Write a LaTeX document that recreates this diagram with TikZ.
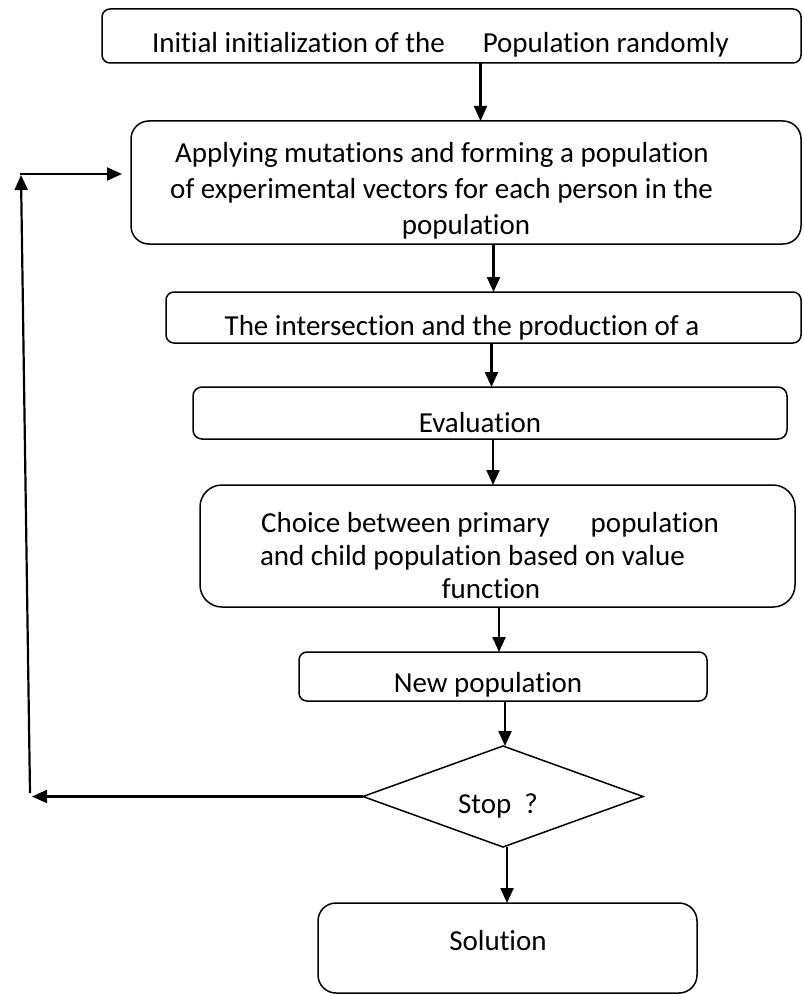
\documentclass[tikz,border=0pt]{standalone}
\usepackage{fontspec}
\setmainfont{Carlito}[Ligatures={NoCommon,NoContextual}]
\usetikzlibrary{arrows.meta,shapes.geometric,fit}
\begin{document}
\begin{tikzpicture}[x=1pt,y=-1pt,
  box/.style={draw, line width=1.5pt, inner sep=0pt, outer sep=0pt},
  arr/.style={line width=2.2pt, -{Triangle[length=15pt,width=13pt]}},
  lbl/.style={anchor=base, inner sep=0pt, font=\fontsize{29}{34}\selectfont}]
\useasboundingbox (0,0) rectangle (803,995);
% boxes
\node[box, rounded corners=8pt,  fit={(102,9)(801,63)}]   (b1) {};
\node[box, rounded corners=18pt, fit={(131,121)(801,244)}] (b2) {};
\node[box, rounded corners=8pt,  fit={(166,292)(801,343)}] (b3) {};
\node[box, rounded corners=9pt,  fit={(193,387)(787,439)}] (b4) {};
\node[box, rounded corners=22pt, fit={(200,485)(795,607)}] (b5) {};
\node[box, rounded corners=8pt,  fit={(299,652)(707,701)}] (b6) {};
\node[box, diamond, minimum width=280pt, minimum height=101pt] (d) at (503,796.5) {};
\node[box, rounded corners=18pt, fit={(318,903)(697,993)}] (b7) {};
% texts
\node[lbl] (t1) at (440.5,53) {Initial initialization of the\hspace{38pt}Population randomly};
\node[lbl] (t2a) at (442,163) {Applying mutations and forming a population};
\node[lbl] (t2b) at (441.5,199) {of experimental vectors for each person in the};
\node[lbl] (t2c) at (466,234) {population};
\node[lbl] (t3) at (462,335) {The intersection and the production of a};
\node[lbl] (t4) at (480,432) {Evaluation};
\node[lbl] (t5a) at (490,532) {Choice between primary\hspace{41pt}population};
\node[lbl] (t5b) at (472.5,565) {and child population based on value};
\node[lbl] (t5c) at (491,598) {function};
\node[lbl] (t6) at (488,692) {New population};
\node[lbl] (td) at (498,813) {Stop~~?};
\node[lbl] (t7) at (498,950) {Solution};
% connectors
\draw[arr] ([xshift=29pt]b1.south) coordinate (s1) -- (s1 |- b2.north);
\draw[arr] ([xshift=27.5pt]b2.south) coordinate (s2) -- (s2 |- b3.north);
\draw[arr] ([xshift=8pt]b3.south) coordinate (s3) -- (s3 |- b4.north);
\draw[arr] ([xshift=3pt]b4.south) coordinate (s4) -- (s4 |- b5.north);
\draw[arr] ([xshift=1.5pt]b5.south) coordinate (s5) -- (s5 |- b6.north);
\draw[arr] ([xshift=2pt]b6.south) coordinate (s6) -- (s6 |- d.north);
\draw[arr] ([xshift=4pt]d.south) coordinate (s7) -- (s7 |- b7.north);
% loop back
\coordinate (lb) at (32,797);
\coordinate (vb) at (30,793);
\coordinate (vt) at (21,175);
\coordinate (hs) at (20,174);
\draw[arr] (d.west) -- (d.west -| lb);
\draw[arr] (vb) -- (vt);
\draw[arr] (hs) -- ([xshift=-9pt]b2.west |- hs);
\end{tikzpicture}
\end{document}
